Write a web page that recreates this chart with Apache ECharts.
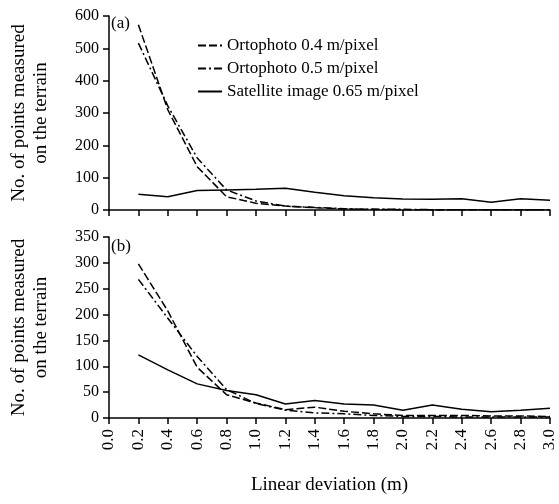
<!DOCTYPE html>
<html><head><meta charset="utf-8">
<script src="https://cdn.jsdelivr.net/npm/echarts@6/dist/echarts.min.js"></script>
<style>html,body{margin:0;padding:0;background:#fff}#c{width:559px;height:504px}</style>
</head><body><div id="c"></div>
<script>
var xVals = [0.2,0.4,0.6,0.8,1.0,1.2,1.4,1.6,1.8,2.0,2.2,2.4,2.6,2.8,3.0];
var ortho04_a = [573,310,134,41,21,12,7,3,2,1,1,1,1,1,1];
var ortho05_a = [516,322,161,62,28,12,8,4,2,2,1,1,1,1,1];
var sat_a = [49,41,60,62,64,67,55,44,38,34,33,35,24,35,30];
var ortho04_b = [298,207,98,45,29,16,21,13,8,5,5,5,4,4,3];
var ortho05_b = [268,193,119,55,28,15,10,8,5,3,3,2,2,2,2];
var sat_b = [122,93,66,53,45,27,34,27,25,15,25,17,12,15,19];
var names = ['Ortophoto 0.4 m/pixel','Ortophoto 0.5 m/pixel','Satellite image 0.65 m/pixel'];

function pairs(v){return xVals.map(function(x,i){return [x,v[i]];});}
var FF = 'Liberation Serif';
var dashT = [8,3];
var dashDotT = [8,3,2,3];
function ser(name, data, type, idx){
  return {name:name, type:'line', xAxisIndex:idx, yAxisIndex:idx, data:pairs(data), symbol:'none',
    lineStyle:{color:'#000', width:1.5, type:type}, itemStyle:{color:'#000'}, animation:false};
}
function xa(idx, showLabel){
  return {type:'value', gridIndex:idx, min:0, max:3.0, interval:0.2,
    axisLine:{lineStyle:{color:'#000', width:1.5}}, axisTick:{show:true, length:6, lineStyle:{color:'#000', width:1.5}},
    splitLine:{show:false},
    axisLabel:{show:showLabel, rotate:90, margin:11, color:'#000', fontFamily:FF, fontSize:17,
      formatter:function(v){return v.toFixed(1);}},
    name: showLabel ? 'Linear deviation (m)' : '', nameLocation:'middle', nameGap:58,
    nameTextStyle:{color:'#000', fontFamily:FF, fontSize:19}};
}
function ya(idx, max, interval){
  return {type:'value', gridIndex:idx, min:0, max:max, interval:interval,
    axisLine:{show:true, lineStyle:{color:'#000', width:1.5}}, axisTick:{show:true, length:6, lineStyle:{color:'#000', width:1.5}},
    splitLine:{show:false},
    axisLabel:{margin:10, color:'#000', fontFamily:FF, fontSize:16},
    name:'No. of points measured\non the terrain', nameLocation:'middle', nameGap:57,
    nameTextStyle:{color:'#000', fontFamily:FF, fontSize:19, lineHeight:22}};
}
var chart = echarts.init(document.getElementById('c'));
chart.setOption({
  backgroundColor:'#fff',
  animation:false,
  grid:[{left:107, right:9, top:16, height:194},{left:107, right:9, top:237, height:181}],
  xAxis:[xa(0,false), xa(1,true)],
  yAxis:[ya(0,600,100), ya(1,350,50)],
  legend:{data:names, orient:'vertical', left:192, top:32, itemWidth:24, itemHeight:10, itemGap:6, itemStyle:{opacity:0},
    textStyle:{color:'#000', fontFamily:FF, fontSize:17}},
  graphic:[
    {type:'text', left:111, top:15, style:{text:'(a)', font:'17px "Liberation Serif"', fill:'#000'}},
    {type:'text', left:111, top:238, style:{text:'(b)', font:'17px "Liberation Serif"', fill:'#000'}}
  ],
  series:[
    ser(names[0], ortho04_a, dashT, 0),
    ser(names[1], ortho05_a, dashDotT, 0),
    ser(names[2], sat_a, 'solid', 0),
    ser(names[0], ortho04_b, dashT, 1),
    ser(names[1], ortho05_b, dashDotT, 1),
    ser(names[2], sat_b, 'solid', 1)
  ]
});
</script></body></html>
